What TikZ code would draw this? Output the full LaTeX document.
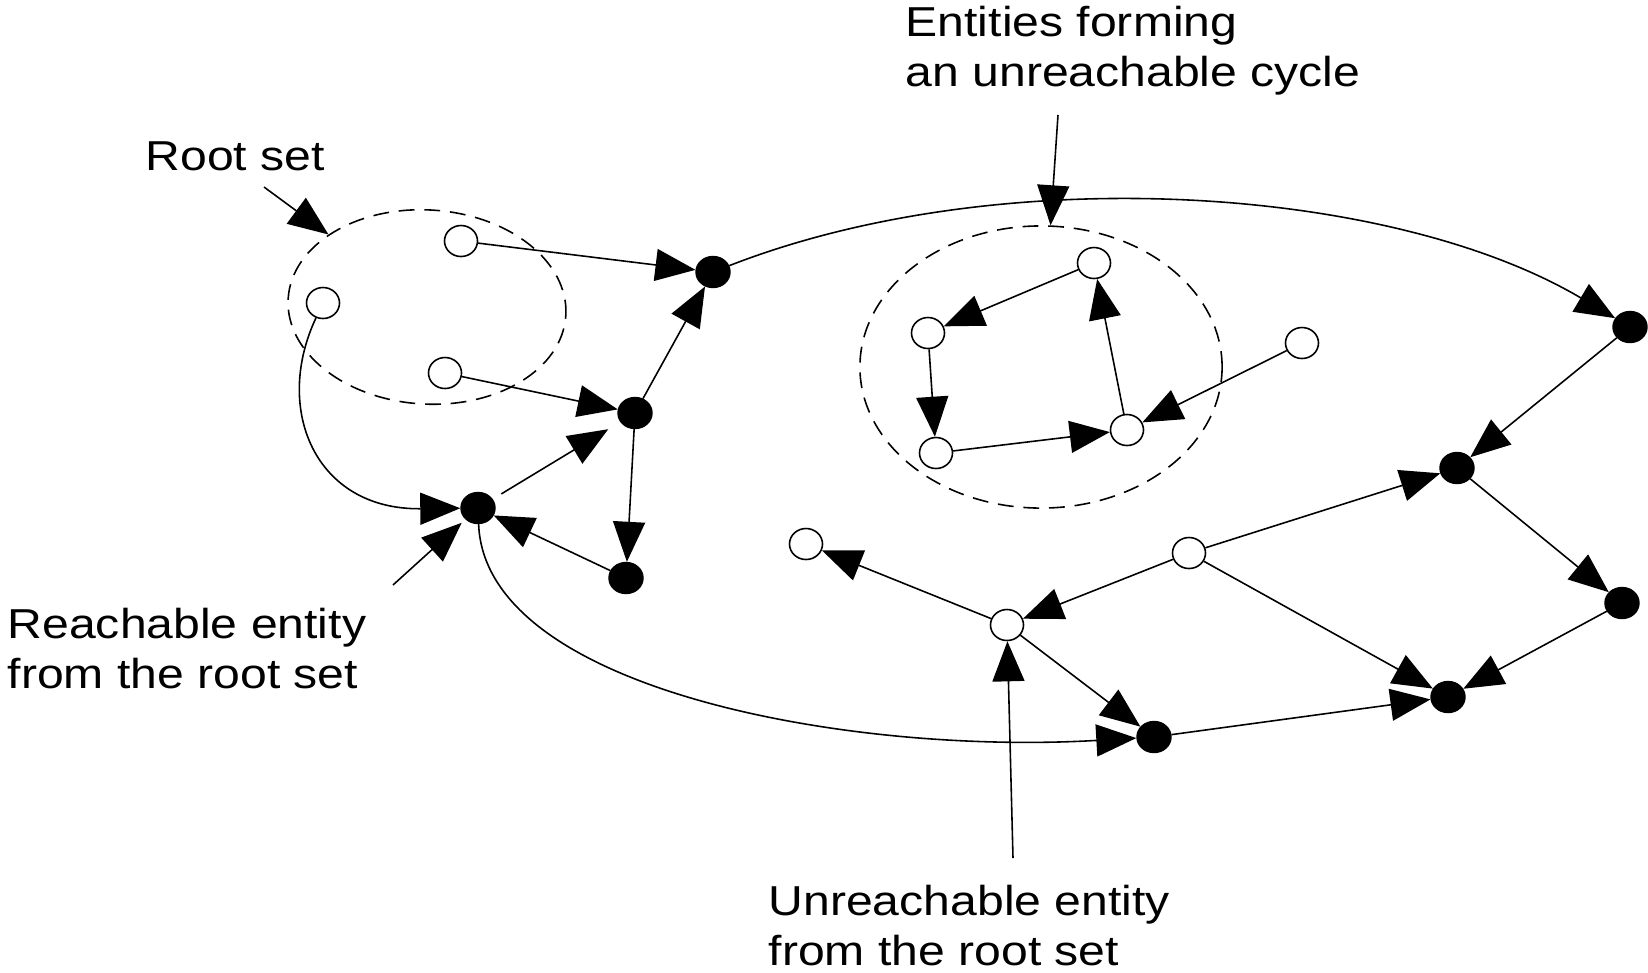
\documentclass[tikz,border=0pt]{standalone}
\usepackage{fontspec}
\setmainfont{Liberation Sans}
\usepackage{graphicx}
\usetikzlibrary{arrows.meta,shapes.geometric}
\newcommand{\wt}[1]{\scalebox{1.15}[1]{#1}}
\begin{document}
\begin{tikzpicture}[x=0.01cm,y=-0.01cm,
  edge/.style={line width=0.45pt,-{Triangle[length=0.4cm,width=0.32cm]}},
  opennode/.style={ellipse,draw,line width=0.45pt,fill=white,minimum width=0.33cm,minimum height=0.31cm,inner sep=0pt},
  fillnode/.style={ellipse,fill=black,draw=black,minimum width=0.34cm,minimum height=0.31cm,inner sep=0pt},
  setline/.style={ellipse,draw,dash pattern=on 4.5pt off 2.8pt,line width=0.45pt,inner sep=0pt},
  lbl/.style={anchor=base west,align=left,inner sep=0pt,font=\fontsize{11.9pt}{14.2pt}\selectfont}]
\useasboundingbox (0,0) rectangle (1648,972);
% sets
\node[setline,minimum width=2.78cm,minimum height=1.94cm,rotate=-3.5] (rootset) at (427,307) {};
\node[setline,minimum width=3.62cm,minimum height=2.82cm] (cycset) at (1041,367) {};
% root set entities
\node[opennode] (R1) at (461,241) {};
\node[opennode] (R2) at (323,303) {};
\node[opennode] (R3) at (445,373) {};
% reachable entities
\node[fillnode] (F1) at (713,272) {};
\node[fillnode] (F2) at (635,413) {};
\node[fillnode] (F3) at (478,508) {};
\node[fillnode] (F4) at (626,578) {};
\node[fillnode] (Rf1) at (1630,327) {};
\node[fillnode] (Fm) at (1457,468) {};
\node[fillnode] (F7) at (1622,603) {};
\node[fillnode] (F6) at (1448,697) {};
\node[fillnode] (F5) at (1154,737) {};
% cycle
\node[opennode] (C1) at (1094,263) {};
\node[opennode] (C2) at (928,333) {};
\node[opennode] (C3) at (936,453) {};
\node[opennode] (C4) at (1127,430) {};
\node[opennode] (C5) at (1302,343) {};
% other unreachable
\node[opennode] (Omid) at (1189,553) {};
\node[opennode] (Oleft) at (1007,625) {};
\node[opennode] (Ofar) at (806,544) {};
% edges
\draw[edge] (R1) -- (F1);
\draw[edge] (R3) -- (F2);
\draw[edge] (F2) -- (F1);
\draw[edge,shorten <=0.1cm,shorten >=0.14cm] (F3) -- (F2);
\draw[edge] (F2) -- (F4);
\draw[edge] (F4) -- (F3);
\draw[edge] (R2) .. controls (273,409) and (315,510) .. (F3);
\draw[edge] (F3) .. controls (485,690) and (850,755) .. (F5);
\draw[edge] (F1) .. controls (1000,160) and (1390,185) .. (Rf1);
\draw[edge] (Rf1) -- (Fm);
\draw[edge] (Fm) -- (F7);
\draw[edge] (F7) -- (F6);
\draw[edge] (F5) -- (F6);
\draw[edge] (Omid) -- (Fm);
\draw[edge] (Omid) -- (F6);
\draw[edge] (Omid) -- (Oleft);
\draw[edge] (Oleft) -- (Ofar);
\draw[edge] (Oleft) -- (F5);
\draw[edge] (C1) -- (C2);
\draw[edge] (C2) -- (C3);
\draw[edge] (C3) -- (C4);
\draw[edge] (C4) -- (C1);
\draw[edge] (C5) -- (C4);
% annotations
\coordinate (rsA) at (264,187);
\coordinate (ecA) at (1058,115);
\coordinate (reA) at (393,585);
\coordinate (ueA) at (1013,858);
\draw[edge] (rsA) -- (rootset);
\draw[edge] (ecA) -- (cycset);
\draw[edge,shorten >=0.05cm] (reA) -- (F3);
\draw[edge] (ueA) -- (Oleft);
% labels (base anchor = baseline of the last line)
\node[lbl] (lroot) at (145,170) {\wt{Root set}};
\node[lbl] (lcyc) at (905,86) {\wt{Entities forming}\\\wt{an unreachable cycle}};
\node[lbl] (lreach) at (7,688) {\wt{Reachable entity}\\\wt{from the root set}};
\node[lbl] (lunr) at (768,965) {\wt{Unreachable entity}\\\wt{from the root set}};
\end{tikzpicture}
\end{document}
